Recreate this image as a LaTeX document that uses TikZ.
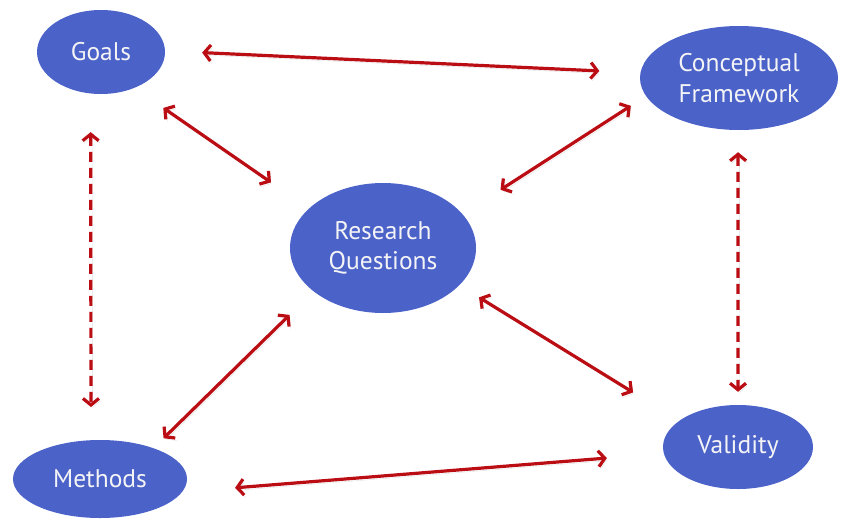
\documentclass[tikz,border=0pt]{standalone}
\usepackage{fontspec}
\setmainfont{PT Sans}
\usetikzlibrary{shapes.geometric,arrows.meta}

\definecolor{bubble}{RGB}{75,98,200}
\definecolor{bubbletext}{RGB}{244,244,246}
\definecolor{linkred}{RGB}{186,14,20}

\tikzset{
  bubble/.style={ellipse, fill=bubble, draw=none, inner sep=0pt,
    text=bubbletext, font=\fontsize{25.5}{30.5}\selectfont, align=center},
  link/.style={draw=linkred, line width=3.2pt,
    {Straight Barb[length=6.5pt,width=16pt]}-{Straight Barb[length=6.5pt,width=16pt]},
    preaction={draw=black!22, opacity=0.55,
      transform canvas={xshift=1.5pt,yshift=-2.5pt}}},
  dashedlink/.style={link, dash pattern=on 10pt off 6pt}
}

\begin{document}
\begin{tikzpicture}[x=1pt,y=-1pt]
  \useasboundingbox (0,0) rectangle (843,520);

  % concept bubbles
  \node[bubble, minimum width=128pt, minimum height=84pt]  (goals)    at (101,52)  {Goals};
  \node[bubble, minimum width=198pt, minimum height=104pt] (frame)    at (739,78)  {Conceptual\\Framework};
  \node[bubble, minimum width=186pt, minimum height=130pt] (rq)       at (383,248) {Research\\Questions};
  \node[bubble, minimum width=174pt, minimum height=78pt]  (methods)  at (100,479) {Methods};
  \node[bubble, minimum width=150pt, minimum height=84pt]  (validity) at (738,447) {Validity};

  % two-way links between the bubbles
  \draw[link, shorten <=37pt, shorten >=41pt]   (goals.1.7)     -- (frame.177.7);
  \draw[link, shorten <=35pt, shorten >=46pt]   (goals.-47.2)   -- (rq.152.9);
  \draw[link, shorten <=18pt, shorten >=45pt]   (frame.191.9)   -- (rq.23.4);
  \draw[link, shorten <=23pt, shorten >=54pt]   (rq.-26.7)      -- (validity.156.9);
  \draw[link, shorten <=14pt, shorten >=33.5pt] (methods.30.5)  -- (rq.212.4);
  \draw[link, shorten <=53pt, shorten >=57pt]   (methods.-9.1)  -- (validity.185.8);

  % dashed vertical links
  \draw[dashedlink, shorten <=38.5pt, shorten >=33pt] (goals.256.5) -- (methods.103.1);
  \draw[dashedlink, shorten <=22pt, shorten >=13pt]   (frame.-91.1) -- (validity.90);
\end{tikzpicture}
\end{document}
